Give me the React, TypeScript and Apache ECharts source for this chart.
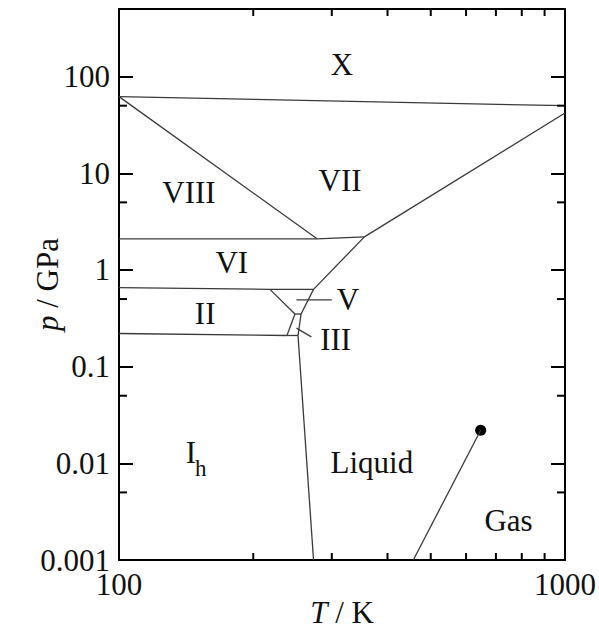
import React, { useEffect, useRef } from 'react';
import * as echarts from 'echarts';

const T_MIN = 100;
const T_MAX = 1000;
const P_MIN = 0.001;
const P_MAX = 500;

const xTickLabels = ['100', '1000'];
const yTickLabels = ['0.001', '0.01', '0.1', '1', '10', '100'];
const xMinorTicks = [200, 300, 400, 500, 600, 700, 800, 900];
const yMinorTicks = [0.005, 0.05, 0.5, 5, 50];

// phase boundaries [T (K), p (GPa)]
const boundaryX = [[100, 62], [1000, 50]];
const boundaryVIIIVII = [[100, 62], [278, 2.1]];
const boundaryVIILiquid = [[355, 2.2], [1000, 42]];
const boundaryVI = [[100, 2.1], [278, 2.1], [355, 2.2]];
const boundaryVILiquid = [[355, 2.2], [273, 0.63], [256, 0.35]];
const boundaryIIVI = [[100, 0.655], [218, 0.63], [273, 0.63]];
const boundaryIIV = [[218, 0.63], [248, 0.35]];
const boundaryIIIV = [[248, 0.35], [256, 0.35]];
const boundaryIIIII = [[248, 0.35], [238, 0.21]];
const boundaryIIIh = [[100, 0.22], [238, 0.21]];
const boundaryIIIIh = [[238, 0.21], [252, 0.21]];
const boundaryIIILiquid = [[256, 0.35], [252, 0.21]];
const boundaryIhLiquid = [[252, 0.21], [273, 0.001]];
const boundaryLiquidGas = [[457, 0.001], [647, 0.022]];
const leaderV = [[250, 0.49], [300, 0.49]];
const leaderIII = [[250, 0.25], [270, 0.203]];
const criticalPoint = [[647, 0.022]];

const phaseNames = ['X', 'VII', 'VIII', 'VI', 'II', 'V', 'III', 'I', 'h', 'Liquid', 'Gas'];
const phaseT = [316, 313, 143.5, 179, 156, 326, 306, 145, 152.6, 369, 747];
const phaseP = [132, 8.5, 6.25, 1.19, 0.358, 0.49, 0.189, 0.0128, 0.00875, 0.0103, 0.00254];

const FONT = 'Liberation Serif';
const INK = '#111';
const LINE = '#3a3a3a';

export default function App() {
  const ref = useRef<HTMLDivElement>(null);
  useEffect(() => {
    if (!ref.current) return;
    const chart = echarts.init(ref.current, undefined, { renderer: 'svg' });

    const yFmt = (v: number) => {
      const e = Math.log10(v);
      const r = Math.round(e);
      if (Math.abs(e - r) > 1e-6) return '';
      return yTickLabels[r + 3] ?? '';
    };
    const xFmt = (v: number) => {
      const e = Math.log10(v);
      const r = Math.round(e);
      if (Math.abs(e - r) > 1e-6) return '';
      return xTickLabels[r - 2] ?? '';
    };

    const axisLine = { show: true, lineStyle: { color: '#000', width: 2 } };
    const majorTick = { show: true, inside: true, length: 14, lineStyle: { color: '#000', width: 2 } };

    const boundaries = [
      boundaryX, boundaryVIIIVII, boundaryVIILiquid, boundaryVI, boundaryVILiquid,
      boundaryIIVI, boundaryIIV, boundaryIIIV, boundaryIIIII, boundaryIIIh,
      boundaryIIIIh, boundaryIIILiquid, boundaryIhLiquid, boundaryLiquidGas,
      leaderV, leaderIII,
    ];

    const labelData = phaseNames.map((n, i) => ({
      name: n,
      value: [phaseT[i], phaseP[i]],
      label: n === 'h' ? { fontSize: 23 } : undefined,
    }));

    const tickStyle = { stroke: '#000', lineWidth: 2 };

    chart.setOption({
      animation: false,
      textStyle: { fontFamily: FONT },
      grid: { left: 119, right: 34, top: 9, bottom: 70, containLabel: false, outerBoundsMode: 'none' },
      xAxis: [
        {
          type: 'log', logBase: 10, min: T_MIN, max: T_MAX, position: 'bottom',
          axisLine, axisTick: majorTick, splitLine: { show: false },
          axisLabel: { formatter: xFmt, fontSize: 31, color: INK, fontFamily: FONT, margin: 9 },
          name: '{i|T} / K', nameLocation: 'middle', nameGap: 37, nameMoveOverlap: false,
          nameTextStyle: { fontSize: 31, color: INK, fontFamily: FONT, rich: { i: { fontStyle: 'italic', fontSize: 31, fontFamily: FONT, color: INK } } },
        },
        {
          type: 'log', logBase: 10, min: T_MIN, max: T_MAX, position: 'top',
          axisLine, axisTick: majorTick, splitLine: { show: false },
          axisLabel: { show: false },
        },
      ],
      yAxis: [
        {
          type: 'log', logBase: 10, min: P_MIN, max: P_MAX, position: 'left',
          axisLine, axisTick: majorTick, splitLine: { show: false },
          axisLabel: { formatter: yFmt, fontSize: 31, color: INK, fontFamily: FONT, margin: 9 },
          name: '{i|p} / GPa', nameLocation: 'middle', nameGap: 56, nameMoveOverlap: false,
          nameTextStyle: { fontSize: 31, color: INK, fontFamily: FONT, rich: { i: { fontStyle: 'italic', fontSize: 31, fontFamily: FONT, color: INK } } },
        },
        {
          type: 'log', logBase: 10, min: P_MIN, max: P_MAX, position: 'right',
          axisLine, axisTick: majorTick, splitLine: { show: false },
          axisLabel: { show: false },
        },
      ],
      series: [
        ...boundaries.map((d) => ({
          type: 'line', data: d, symbol: 'none', xAxisIndex: 0, yAxisIndex: 0,
          lineStyle: { color: LINE, width: 1.3 }, silent: true,
        })),
        {
          type: 'scatter', data: criticalPoint, symbol: 'circle', symbolSize: 11,
          itemStyle: { color: '#000', opacity: 1 }, silent: true,
        },
        {
          type: 'scatter', data: labelData, symbolSize: 0, silent: true,
          itemStyle: { opacity: 1 },
          label: { show: true, position: 'inside', formatter: '{b}', fontSize: 31, color: INK, fontFamily: FONT },
        },
        {
          type: 'custom', silent: true, z: 10,
          data: xMinorTicks.map((t) => [t, P_MIN]),
          renderItem: (params: any, api: any) => {
            const T = api.value(0);
            const b = api.coord([T, P_MIN]);
            const t = api.coord([T, P_MAX]);
            return {
              type: 'group',
              children: [
                { type: 'line', shape: { x1: b[0], y1: b[1], x2: b[0], y2: b[1] - 7 }, style: tickStyle },
                { type: 'line', shape: { x1: t[0], y1: t[1], x2: t[0], y2: t[1] + 7 }, style: tickStyle },
              ],
            };
          },
        },
        {
          type: 'custom', silent: true, z: 10,
          data: yMinorTicks.map((p) => [T_MIN, p]),
          renderItem: (params: any, api: any) => {
            const p = api.value(1);
            const l = api.coord([T_MIN, p]);
            const r = api.coord([T_MAX, p]);
            return {
              type: 'group',
              children: [
                { type: 'line', shape: { x1: l[0], y1: l[1], x2: l[0] + 8, y2: l[1] }, style: tickStyle },
                { type: 'line', shape: { x1: r[0], y1: r[1], x2: r[0] - 8, y2: r[1] }, style: tickStyle },
              ],
            };
          },
        },
      ],
    });
    return () => chart.dispose();
  }, []);
  return (
    <div
      ref={ref}
      style={{ position: 'fixed', left: 0, top: 0, width: 599, height: 630, background: '#fff' }}
    />
  );
}
